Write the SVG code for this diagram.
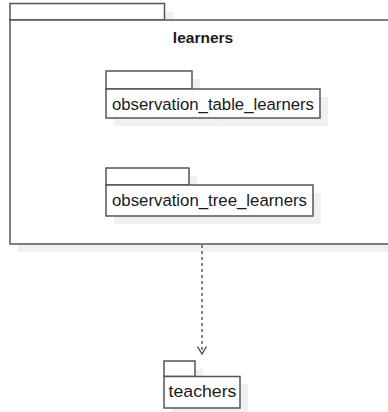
<svg xmlns="http://www.w3.org/2000/svg" width="388" height="412" viewBox="0 0 388 412">
<style>
.sh{fill:#f0f0f0;stroke:none}
.box{fill:#ffffff;stroke:#555555;stroke-width:1.5}
.t{font-family:"Liberation Sans",Arial,sans-serif;fill:#1a1a1a}
.lbl{font-size:16.8px}
.hd{font-size:15.5px;font-weight:bold}
.edge{fill:none;stroke:#444444;stroke-width:1.3}
</style>
<rect width="388" height="412" fill="#ffffff"/>
<g id="learners">
<rect class="sh" x="18" y="12" width="155" height="17"/>
<rect class="sh" x="18" y="28" width="380" height="224"/>
<rect class="box" x="10" y="3.5" width="154.5" height="16.5"/>
<rect class="box" x="10" y="20" width="385" height="224"/>
<text class="t hd" x="203" y="42.5" text-anchor="middle">learners</text>
</g>
<g id="observation_table_learners">
<rect class="sh" x="114" y="79" width="86" height="18"/>
<rect class="sh" x="114" y="97" width="214" height="29"/>
<rect class="box" x="106" y="71" width="86" height="18"/>
<rect class="box" x="106" y="89" width="214" height="29"/>
<text class="t lbl" x="213" y="110" text-anchor="middle" textLength="202" lengthAdjust="spacingAndGlyphs">observation_table_learners</text>
</g>
<g id="observation_tree_learners">
<rect class="sh" x="114" y="176" width="83" height="17"/>
<rect class="sh" x="114" y="193" width="207" height="31"/>
<rect class="box" x="106" y="168" width="83" height="17"/>
<rect class="box" x="106" y="185" width="207" height="31"/>
<text class="t lbl" x="209.5" y="205.5" text-anchor="middle" textLength="195" lengthAdjust="spacingAndGlyphs">observation_tree_learners</text>
</g>
<g id="teachers">
<rect class="sh" x="172" y="369" width="31" height="16"/>
<rect class="sh" x="172" y="384" width="76" height="32"/>
<rect class="box" x="164" y="361" width="31" height="15.5"/>
<rect class="box" x="164" y="376.5" width="76" height="31.5"/>
<text class="t lbl" x="202.5" y="397" text-anchor="middle" textLength="68" lengthAdjust="spacingAndGlyphs">teachers</text>
</g>
<g id="connectors">
<line class="edge" x1="202" y1="245" x2="202" y2="353" stroke-dasharray="3,3"/>
<polyline class="edge" points="197.5,346.5 202,354 206.5,346.5"/>
</g>
</svg>
